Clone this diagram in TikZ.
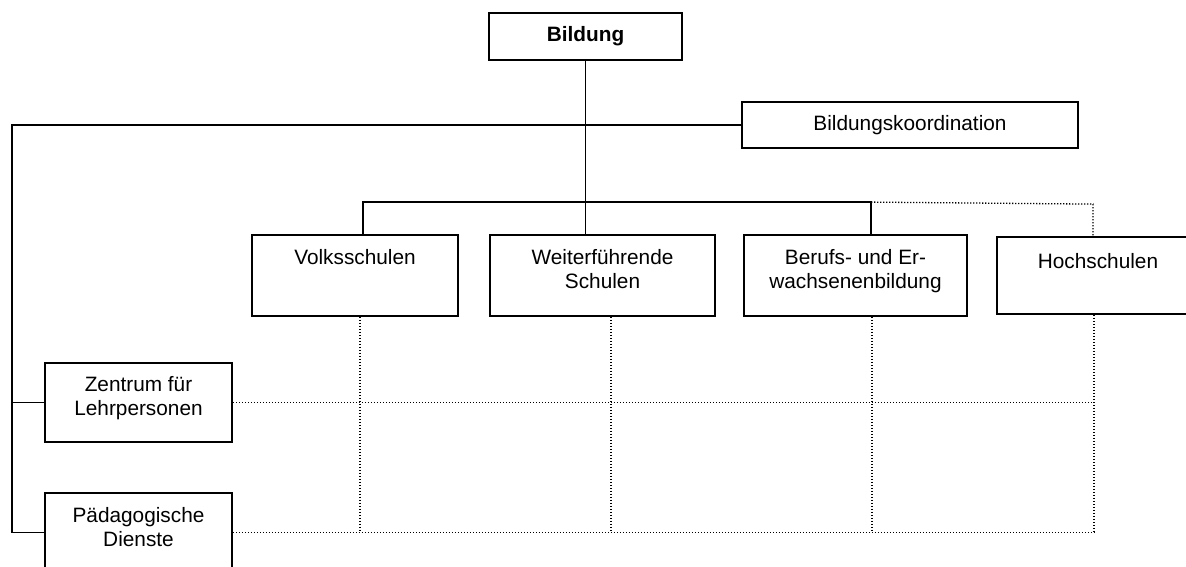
\documentclass[tikz,border=0pt]{standalone}
\usepackage{fontspec}
\setmainfont{Liberation Sans}
\usetikzlibrary{calc}
\begin{document}
\begin{tikzpicture}[x=1pt,y=-1pt,
  box/.style={draw,line width=1.8pt,rectangle,inner sep=0pt},
  lbl/.style={inner sep=0pt,align=center,anchor=north,font=\fontsize{20.8}{24}\selectfont},
  conn/.style={line width=1.8pt},
  dotline/.style={line width=1.3pt,dash pattern=on 1.3pt off 1.7pt},
  every node/.style={font=\fontsize{20.8}{24}\selectfont}]
\useasboundingbox[fill=white] (0,0) rectangle (1186,566);
% boxes
\node[box,minimum width=193pt,minimum height=47pt,font=\fontsize{20.8}{24}\selectfont\bfseries] (bild) at (585.5,36.5) {Bildung};
\node[box,minimum width=336pt,minimum height=46pt] (koord) at (910,125) {Bildungskoordination};
\node[box,minimum width=206pt,minimum height=81pt] (volk) at (355,275.5) {};
\node[box,minimum width=225pt,minimum height=81pt] (weiter) at (602.5,275.5) {};
\node[box,minimum width=223pt,minimum height=81pt] (berufs) at (855.5,275.5) {};
\node[box,minimum width=202pt,minimum height=77pt] (hoch) at (1098,275.5) {};
\node[box,minimum width=187pt,minimum height=79pt] (zent) at (138.5,402.5) {};
\node[box,minimum width=187pt,minimum height=79pt] (paed) at (138.5,532.5) {};
% labels
\node[lbl] (tvolk) at ($(volk.north)+(0,15)$) {Volksschulen};
\node[lbl] (tweiter) at ($(weiter.north)+(0,15)$) {Weiterführende\\Schulen};
\node[lbl] (tberufs) at ($(berufs.north)+(0,15)$) {Berufs- und Er-\\wachsenenbildung};
\node[lbl] (thoch) at ($(hoch.north)+(0,17)$) {Hochschulen};
\node[lbl,anchor=center] (tzent) at ($(zent.center)+(0,-4)$) {Zentrum für\\Lehrpersonen};
\node[lbl,anchor=center] (tpaed) at ($(paed.center)+(0,-5)$) {Pädagogische\\Dienste};
% coordinates
\coordinate (jv) at ($(volk.north)+(8,-32)$);
\coordinate (jb) at ($(berufs.north)+(15.5,-32)$);
\coordinate (jh) at ($(hoch.north)+(-5,-32)$);
\coordinate (spine) at (12,125);
% solid connectors
\draw[conn] (bild.south) -- (bild.south |- weiter.north);
\draw[conn] (jv |- volk.north) -- (jv) -- (jb) -- (jb |- berufs.north);
\draw[conn] (koord.west) -- (spine) -- (spine |- paed.west) -- (paed.west);
\draw[conn] (spine |- zent.west) -- (zent.west);
% dotted connectors
\draw[dotline] (jb) -- (jh) -- (jh |- hoch.north);
\coordinate (dv) at ($(volk.south)+(5,0)$);
\coordinate (dw) at ($(weiter.south)+(8.5,0)$);
\coordinate (db) at ($(berufs.south)+(16.5,0)$);
\coordinate (dh) at ($(hoch.south)+(-4,0)$);
\draw[dotline] (dv) -- (dv |- paed.west);
\draw[dotline] (dw) -- (dw |- paed.west);
\draw[dotline] (db) -- (db |- paed.west);
\draw[dotline] (dh) -- (dh |- paed.west);
\draw[dotline] (zent.east) -- (dh |- zent.east);
\draw[dotline] (paed.east) -- (dh |- paed.east);
\end{tikzpicture}
\end{document}
